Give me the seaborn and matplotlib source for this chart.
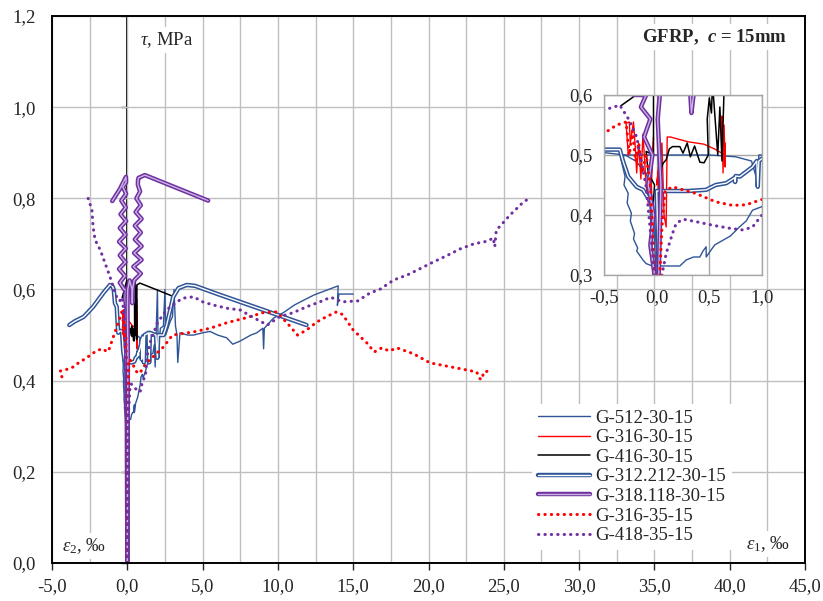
import matplotlib
matplotlib.use('Agg')
import matplotlib.pyplot as plt
import matplotlib.patheffects as pe
from matplotlib.ticker import FuncFormatter, MultipleLocator
import pandas as pd
import seaborn as sns

# tau (MPa) vs strain (per mille), each branch as (eps, tau)
g512_a = [(0, 0), (0.01, 0.15), (0.02, 0.28), (-0.03, 0.42), (-0.1, 0.47), (-0.2, 0.49),
          (-0.3, 0.5), (-0.34, 0.494), (-0.3, 0.464), (-0.31, 0.45), (-0.27, 0.436),
          (-0.28, 0.42), (-0.24, 0.403), (-0.25, 0.39), (-0.21, 0.369), (-0.22, 0.36),
          (-0.18, 0.345), (-0.19, 0.34), (-0.15, 0.33), (-0.13, 0.325), (-0.1, 0.319),
          (-0.04, 0.315), (0.1, 0.315), (0.22, 0.315), (0.25, 0.32), (0.28, 0.325),
          (0.35, 0.33), (0.41, 0.33), (0.44, 0.34), (0.47, 0.347), (0.47, 0.33),
          (0.55, 0.35), (0.63, 0.358), (0.7, 0.365), (0.785, 0.38), (0.85, 0.39),
          (0.91, 0.408), (1.0, 0.414), (1.05, 0.406), (1.2, 0.42), (1.5, 0.456),
          (1.7, 0.46), (1.8, 0.48), (1.85, 0.43), (2.0, 0.6), (2.05, 0.47), (2.2, 0.515),
          (2.4, 0.52), (2.5, 0.6), (2.55, 0.5), (2.85, 0.53), (3.0, 0.54), (3.1, 0.6),
          (3.2, 0.52), (3.3, 0.5), (3.35, 0.44), (3.5, 0.505), (4.0, 0.5), (4.4, 0.5),
          (5.0, 0.505), (5.5, 0.508), (6.0, 0.5), (6.6, 0.494), (7.0, 0.48), (7.5, 0.487),
          (8.2, 0.5), (8.6, 0.505), (9.0, 0.515), (9.05, 0.47), (9.1, 0.515), (9.7, 0.537),
          (10.4, 0.55), (11.1, 0.566), (11.8, 0.578), (12.4, 0.588), (13.2, 0.598),
          (14.0, 0.608), (13.95, 0.565), (14.05, 0.59), (14.4, 0.59), (15.0, 0.59)]
g512_b = [(-0.55, 0.505), (-0.3, 0.5), (0.0, 0.5), (0.5, 0.5), (0.75, 0.497), (0.9, 0.49),
          (0.95, 0.46), (0.96, 0.45), (0.97, 0.5), (1.05, 0.5)]

g316_30_e2 = [(0, 0), (-0.02, 0.3), (-0.05, 0.45), (-0.03, 0.53), (-0.08, 0.42), (-0.1, 0.45),
              (-0.13, 0.535), (-0.15, 0.46), (-0.17, 0.52), (-0.19, 0.47), (-0.2, 0.505),
              (-0.22, 0.555), (-0.25, 0.52), (-0.26, 0.555), (-0.29, 0.553), (-0.27, 0.5)]
g316_30_e1 = [(0, 0), (0.02, 0.3), (0.0, 0.38), (0.03, 0.5), (0.0, 0.45), (0.05, 0.52),
              (0.07, 0.4), (0.09, 0.38), (0.1, 0.53), (0.13, 0.53), (0.3, 0.522),
              (0.45, 0.518), (0.55, 0.51), (0.62, 0.503), (0.62, 0.565), (0.63, 0.47),
              (0.64, 0.55), (0.65, 0.48), (0.65, 0.52)]

g416_e2 = [(0, 0), (-0.01, 0.3), (-0.04, 0.4), (-0.02, 0.45), (-0.08, 0.47), (-0.1, 0.506),
           (-0.03, 0.5), (-0.03, 0.62), (-0.1, 0.612), (-0.34, 0.582)]
g416_e1 = [(0, 0), (0.02, 0.3), (0.03, 0.47), (0.06, 0.486), (0.09, 0.492), (0.12, 0.51),
           (0.15, 0.514), (0.22, 0.514), (0.25, 0.503), (0.29, 0.52), (0.32, 0.497),
           (0.36, 0.515), (0.41, 0.488), (0.45, 0.487), (0.49, 0.5), (0.48, 0.56),
           (0.5, 0.595), (0.52, 0.57), (0.53, 0.62), (0.58, 0.5), (0.6, 0.58), (0.62, 0.49),
           (0.64, 0.61), (0.84, 0.614), (2.96, 0.586)]

g312_e2 = [(0, 0), (-0.02, 0.3), (-0.05, 0.42), (-0.13, 0.442), (-0.19, 0.447), (-0.27, 0.464),
           (-0.32, 0.49), (-0.35, 0.509), (-0.5, 0.509), (-0.6, 0.505), (-0.65, 0.53),
           (-0.7, 0.562), (-0.82, 0.57), (-0.9, 0.6), (-1.0, 0.608), (-1.15, 0.61),
           (-1.6, 0.592), (-2.27, 0.562), (-2.9, 0.54), (-3.5, 0.53), (-3.85, 0.522)]
g312_e1 = [(0, 0), (0.02, 0.3), (0.0, 0.44), (0.1, 0.44), (0.3, 0.44), (0.47, 0.442),
           (0.56, 0.45), (0.66, 0.453), (0.74, 0.462), (0.745, 0.455), (0.75, 0.465),
           (0.79, 0.464), (0.91, 0.48), (0.95, 0.49), (0.96, 0.447), (0.97, 0.49),
           (1.0, 0.494), (1.05, 0.496), (1.1, 0.44), (1.15, 0.5), (1.4, 0.505), (1.45, 0.44),
           (1.5, 0.505), (1.9, 0.5), (2.0, 0.45), (2.05, 0.5), (2.4, 0.5), (2.6, 0.52),
           (2.85, 0.555), (3.05, 0.584), (3.4, 0.603), (3.95, 0.61), (4.5, 0.608),
           (6.0, 0.59), (8.0, 0.567), (10.0, 0.544), (11.9, 0.522)]

g318_e2 = [(0, 0), (-0.02, 0.3), (-0.06, 0.35), (-0.03, 0.4), (-0.08, 0.45), (-0.04, 0.5),
           (-0.12, 0.53), (-0.06, 0.56), (-0.15, 0.58), (-0.1, 0.6), (-0.2, 0.6),
           (-0.5, 0.615), (-0.15, 0.63), (-0.55, 0.645), (-0.12, 0.66), (-0.5, 0.675),
           (-0.1, 0.69), (-0.55, 0.705), (-0.12, 0.72), (-0.5, 0.735), (-0.08, 0.75),
           (-0.45, 0.765), (-0.1, 0.78), (-0.4, 0.795), (-0.08, 0.81), (-0.3, 0.825),
           (-0.08, 0.835), (-0.09, 0.847), (-0.5, 0.82), (-1.0, 0.794)]
g318_e1 = [(0, 0), (0.02, 0.3), (0.04, 0.45), (0.01, 0.56), (0.03, 0.6), (0.15, 0.62),
           (0.32, 0.6), (0.33, 0.57), (0.35, 0.6), (0.45, 0.62), (0.9, 0.635), (0.4, 0.65),
           (0.95, 0.665), (0.45, 0.68), (0.95, 0.695), (0.5, 0.71), (0.9, 0.725), (0.5, 0.74),
           (0.95, 0.755), (0.55, 0.77), (0.9, 0.785), (0.6, 0.8), (0.85, 0.815), (0.7, 0.83),
           (0.71, 0.84), (0.75, 0.845), (1.17, 0.851), (5.37, 0.795)]

g316_35_e2 = [(0, 0), (-0.01, 0.1), (-0.02, 0.2), (-0.02, 0.3), (-0.04, 0.38), (-0.06, 0.45),
              (-0.1, 0.5), (-0.14, 0.47), (-0.17, 0.52), (-0.2, 0.49), (-0.23, 0.54),
              (-0.26, 0.5), (-0.29, 0.555), (-0.38, 0.55), (-0.5, 0.536), (-0.7, 0.518),
              (-1.0, 0.489), (-1.2, 0.47), (-1.35, 0.463), (-1.6, 0.47), (-1.94, 0.467),
              (-2.3, 0.46), (-2.7, 0.45), (-3.2, 0.44), (-3.6, 0.43), (-4.0, 0.425),
              (-4.47, 0.421), (-4.3, 0.404)]
g316_35_e1 = [(0, 0), (0.01, 0.1), (0.02, 0.2), (0.03, 0.3), (0.05, 0.38), (0.08, 0.44),
              (0.15, 0.447), (0.37, 0.436), (0.56, 0.422), (0.72, 0.416), (0.85, 0.417),
              (1.0, 0.426), (1.3, 0.44), (1.7, 0.452), (2.4, 0.474), (3.0, 0.5), (4.4, 0.507),
              (5.5, 0.515), (6.6, 0.527), (7.9, 0.538), (9.0, 0.549), (9.9, 0.551),
              (10.6, 0.527), (11.3, 0.5), (11.9, 0.511), (12.6, 0.529), (13.2, 0.54),
              (13.9, 0.551), (14.3, 0.545), (15.0, 0.511), (15.9, 0.483), (16.4, 0.463),
              (16.9, 0.472), (17.4, 0.465), (17.9, 0.472), (19.0, 0.459), (20.1, 0.439),
              (21.2, 0.432), (22.3, 0.425), (23.2, 0.419), (23.4, 0.405), (23.5, 0.402),
              (23.7, 0.42), (24.2, 0.421)]

g418_e2 = [(0, 0), (-0.01, 0.15), (-0.02, 0.3), (-0.04, 0.336), (-0.07, 0.392), (-0.1, 0.447),
           (-0.13, 0.475), (-0.16, 0.503), (-0.19, 0.53), (-0.26, 0.558), (-0.35, 0.583),
           (-0.5, 0.575), (-0.62, 0.577), (-0.81, 0.592), (-1.15, 0.628), (-1.48, 0.658),
           (-1.8, 0.687), (-2.14, 0.709), (-2.27, 0.737), (-2.35, 0.775), (-2.6, 0.80)]
g418_e1 = [(0, 0), (0.02, 0.15), (0.05, 0.3), (0.09, 0.336), (0.15, 0.369), (0.185, 0.386),
           (0.25, 0.393), (0.37, 0.389), (0.53, 0.383), (0.69, 0.378), (0.82, 0.375),
           (0.91, 0.38), (1.0, 0.4), (1.2, 0.408), (1.3, 0.452), (1.5, 0.482), (2.0, 0.527),
           (2.6, 0.555), (3.3, 0.573), (3.7, 0.581), (4.4, 0.584), (5.0, 0.573), (5.7, 0.566),
           (6.6, 0.559), (7.5, 0.555), (8.4, 0.538), (9.3, 0.522), (10.1, 0.54), (11.0, 0.549),
           (11.9, 0.562), (12.8, 0.573), (13.5, 0.583), (14.3, 0.573), (15.3, 0.575),
           (16.1, 0.592), (16.8, 0.601), (17.7, 0.621), (18.6, 0.632), (19.4, 0.645),
           (20.3, 0.66), (21.2, 0.674), (22.1, 0.689), (23.0, 0.7), (23.9, 0.706),
           (24.3, 0.713), (24.4, 0.694), (24.5, 0.73), (25.0, 0.748), (25.4, 0.763),
           (25.9, 0.779), (26.3, 0.792), (26.7, 0.8)]

BLUE = '#2F5597'
RED = '#FF0000'
PURPLE = '#7030A0'


def double(outer, inner):
    return dict(color=inner, lw=1.0,
                path_effects=[pe.Stroke(linewidth=3.2, foreground=outer), pe.Normal()])


dots = dict(lw=2.2, ls=(0, (0.1, 2.0)), dash_capstyle='round')

series = [
    ('G-512-30-15', [g512_a, g512_b], dict(color=BLUE, lw=1.0)),
    ('G-316-30-15', [g316_30_e2, g316_30_e1], dict(color=RED, lw=1.0)),
    ('G-416-30-15', [g416_e2, g416_e1], dict(color='black', lw=1.1)),
    ('G-312.212-30-15', [g312_e2, g312_e1], double(BLUE, 'white')),
    ('G-318.118-30-15', [g318_e2, g318_e1], double(PURPLE, '#C9B5E3')),
    ('G-316-35-15', [g316_35_e2, g316_35_e1], dict(color=RED, **dots)),
    ('G-418-35-15', [g418_e2, g418_e1], dict(color=PURPLE, **dots)),
]

sns.set_style('white')
plt.rcParams['font.family'] = ['Liberation Serif', 'DejaVu Serif']
plt.rcParams['mathtext.fontset'] = 'custom'
plt.rcParams['mathtext.rm'] = 'Liberation Serif'
plt.rcParams['mathtext.it'] = 'Liberation Serif:italic'
plt.rcParams['mathtext.bf'] = 'Liberation Serif:bold'
plt.rcParams['mathtext.bfit'] = 'Liberation Serif:bold:italic'

FS = 13.5
comma = FuncFormatter(lambda v, p: f'{v:.1f}'.replace('.', ','))


def draw(ax, legend_labels):
    for name, branches, kw in series:
        for i, br in enumerate(branches):
            d = pd.DataFrame(br, columns=['eps', 'tau'])
            lab = name if (legend_labels and i == 0) else '_nolegend_'
            sns.lineplot(data=d, x='eps', y='tau', sort=False, estimator=None,
                         legend=False, ax=ax, label=lab, **kw)
    ax.set_xlabel('')
    ax.set_ylabel('')


fig = plt.figure(figsize=(8.23, 6.01), dpi=100)
ax = fig.add_axes([52 / 823, 1 - 563 / 601, 753 / 823, 547 / 601])
draw(ax, True)
ax.set_xlim(-5, 45)
ax.set_ylim(0, 1.2)
ax.xaxis.set_major_locator(MultipleLocator(5))
ax.xaxis.set_minor_locator(MultipleLocator(2.5))
ax.yaxis.set_major_locator(MultipleLocator(0.2))
ax.xaxis.set_major_formatter(comma)
ax.yaxis.set_major_formatter(comma)
ax.grid(True, which='both', axis='x', color='#BFBFBF', lw=1.0)
ax.grid(True, which='major', axis='y', color='#BFBFBF', lw=1.0)
ax.tick_params(axis='x', which='major', direction='out', length=5, width=1,
               bottom=True, pad=6, labelsize=FS)
ax.tick_params(axis='x', which='minor', length=0)
ax.tick_params(axis='y', length=0, pad=12, labelsize=FS)
for s in ax.spines.values():
    s.set_color('black')
    s.set_linewidth(1.4)

# vertical axis crossing at eps = 0
sec = ax.secondary_yaxis(0.1)
sec.yaxis.set_major_locator(MultipleLocator(0.2))
sec.tick_params(direction='out', length=4, width=1, labelleft=False, labelright=False)
sec.spines['left'].set_linewidth(1.4)
sec.spines['left'].set_color('black')

# zoomed inset
axin = fig.add_axes([604 / 823, 1 - 275 / 601, 158 / 823, 180 / 601])
axin.set_facecolor('white')
draw(axin, False)
axin.set_xlim(-0.5, 1.0)
axin.set_ylim(0.3, 0.6)
axin.xaxis.set_major_locator(MultipleLocator(0.5))
axin.yaxis.set_major_locator(MultipleLocator(0.1))
axin.xaxis.set_major_formatter(comma)
axin.yaxis.set_major_formatter(comma)
axin.grid(True, color='#A6A6A6', lw=1.0)
axin.tick_params(length=0, labelsize=FS)
axin.tick_params(axis='x', pad=10)
axin.tick_params(axis='y', pad=8)
for s in axin.spines.values():
    s.set_color('#A6A6A6')
    s.set_linewidth(1.0)

handles, labels = ax.get_legend_handles_labels()
ax.legend(handles, labels, loc='upper left', bbox_to_anchor=(532 / 823, 1 - 404 / 601),
          bbox_transform=fig.transFigure, frameon=True, fancybox=False, framealpha=1,
          facecolor='white', edgecolor='none', fontsize=FS, handlelength=2.8,
          handletextpad=0.3, labelspacing=0.13, borderpad=0.3, borderaxespad=0)

box = dict(facecolor='white', edgecolor='none', pad=2)
fig.text(140 / 823, 1 - 40 / 601, r'$\tau$, MPa', fontsize=FS, ha='left', va='center', bbox=box)
fig.text(62 / 823, 1 - 546 / 601, r'$\varepsilon_2$, ‰', fontsize=FS, ha='left', va='center', bbox=box)
fig.text(790 / 823, 1 - 544 / 601, r'$\varepsilon_{\mathit{1}}$, ‰', fontsize=FS, ha='right',
         va='center', bbox=box)
fig.text(787 / 823, 1 - 37 / 601, r'GFRP,  $\mathbfit{c}$ = 15mm', fontsize=FS, fontweight='bold',
         ha='right', va='center', bbox=box)

fig.savefig('out.png', dpi=100)
